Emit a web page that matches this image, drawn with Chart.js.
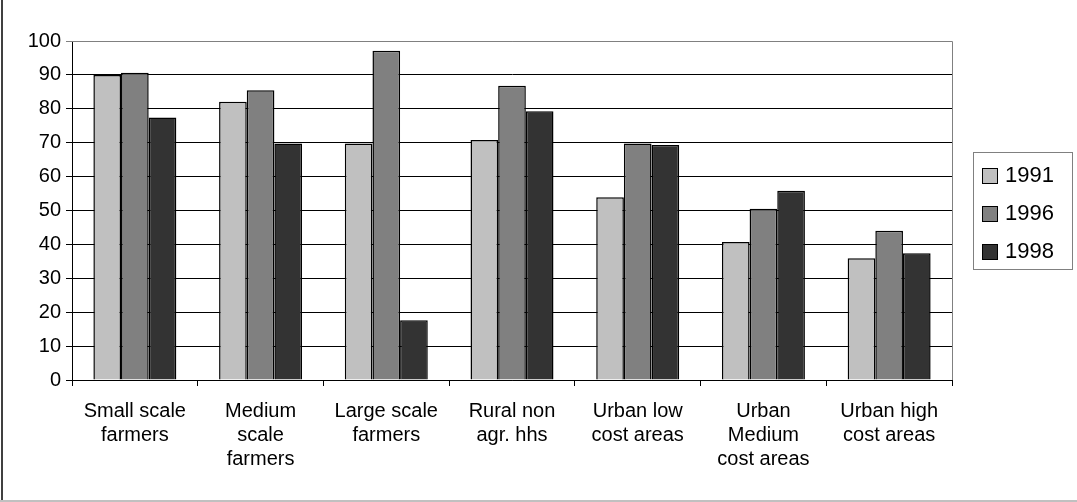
<!DOCTYPE html>
<html>
<head>
<meta charset="utf-8">
<script src="https://cdn.jsdelivr.net/npm/chart.js@4"></script>
<style>
  html, body { margin: 0; padding: 0; background: #fff; }
  #wrap { position: relative; width: 1077px; height: 502px; }
</style>
</head>
<body>
<div id="wrap"><canvas id="c" width="1077" height="502"></canvas></div>
<script>
const categories = [
  ["Small scale", "farmers"],
  ["Medium", "scale", "farmers"],
  ["Large scale", "farmers"],
  ["Rural non", "agr. hhs"],
  ["Urban low", "cost areas"],
  ["Urban", "Medium", "cost areas"],
  ["Urban high", "cost areas"]
];
const seriesNames = ["1991", "1996", "1998"];
const values1991 = [90.0, 82.1, 69.8, 70.8, 53.9, 40.7, 35.9];
const values1996 = [90.6, 85.5, 97.1, 86.8, 69.8, 50.5, 44.0];
const values1998 = [77.4, 69.8, 17.6, 79.3, 69.3, 55.8, 37.4];
const seriesColors = ["#C0C0C0", "#808080", "#333333"];
const yTicks = [0, 10, 20, 30, 40, 50, 60, 70, 80, 90, 100];

const FONT = "'Liberation Sans', Arial, sans-serif";

const framePlugin = {
  id: 'frame',
  beforeDatasetsDraw(chart) {
    const ctx = chart.ctx, a = chart.chartArea;
    ctx.save();
    ctx.strokeStyle = '#808080';
    ctx.lineWidth = 1;
    ctx.beginPath();
    ctx.moveTo(a.left, a.top + 0.5);
    ctx.lineTo(a.right + 0.5, a.top + 0.5);
    ctx.lineTo(a.right + 0.5, a.bottom);
    ctx.stroke();
    ctx.restore();
  },
  afterDraw(chart) {
    const ctx = chart.ctx;
    ctx.save();
    // outer frame
    ctx.strokeStyle = '#404040';
    ctx.lineWidth = 2;
    ctx.beginPath();
    ctx.moveTo(2, 0);
    ctx.lineTo(2, 501);
    ctx.stroke();
    ctx.strokeStyle = '#c0c0c0';
    ctx.beginPath();
    ctx.moveTo(0, 501);
    ctx.lineTo(1077, 501);
    ctx.stroke();
    // legend
    const lx = 973, ly = 152, lw = 99, lh = 117;
    ctx.fillStyle = '#fff';
    ctx.fillRect(lx, ly, lw, lh);
    ctx.strokeStyle = '#808080';
    ctx.lineWidth = 1;
    ctx.strokeRect(lx + 0.5, ly + 0.5, lw, lh);
    const rows = [175, 213, 251];
    chart.data.datasets.forEach((ds, i) => {
      const cy = rows[i];
      ctx.fillStyle = ds.backgroundColor;
      ctx.fillRect(982, cy - 7, 15, 15);
      ctx.strokeStyle = '#000';
      ctx.lineWidth = 1;
      ctx.strokeRect(982.5, cy - 6.5, 15, 15);
      ctx.fillStyle = '#000';
      ctx.font = "22px " + FONT;
      ctx.textBaseline = 'middle';
      ctx.textAlign = 'left';
      ctx.fillText(ds.label, 1005, cy + 1);
    });
    ctx.restore();
  }
};

new Chart(document.getElementById('c'), {
  type: 'bar',
  data: {
    labels: categories,
    datasets: [
      { label: seriesNames[0], data: values1991, backgroundColor: seriesColors[0] },
      { label: seriesNames[1], data: values1996, backgroundColor: seriesColors[1] },
      { label: seriesNames[2], data: values1998, backgroundColor: seriesColors[2] }
    ].map(d => Object.assign(d, { borderColor: '#000', borderWidth: 1.5, categoryPercentage: 0.66, barPercentage: 1.0 }))
  },
  options: {
    responsive: false,
    animation: false,
    devicePixelRatio: 1,
    layout: { padding: { left: 0, top: 41, right: 125, bottom: 0 } },
    plugins: { legend: { display: false }, tooltip: { enabled: false } },
    scales: {
      x: {
        offset: true,
        afterFit(scale) { scale.height = 122; },
        grid: { offset: true, drawOnChartArea: false, drawTicks: true, tickLength: 6, color: '#000', lineWidth: 1 },
        border: { color: '#000', width: 1 },
        ticks: { color: '#000', font: { family: FONT, size: 20, lineHeight: 1.2 }, padding: 13, maxRotation: 0, autoSkip: false }
      },
      y: {
        min: 0, max: 100,
        afterFit(scale) { scale.width = 72; },
        afterBuildTicks(scale) { scale.ticks = yTicks.map(v => ({ value: v })); },
        grid: {
          color: ctx => (ctx.tick && ctx.tick.value === 100 ? '#808080' : '#000'),
          lineWidth: 1, drawTicks: true, tickLength: 6
        },
        border: { color: '#000', width: 1 },
        ticks: { color: '#000', font: { family: FONT, size: 20 }, padding: 5, stepSize: 10 }
      }
    }
  },
  plugins: [framePlugin]
});
</script>
</body>
</html>
